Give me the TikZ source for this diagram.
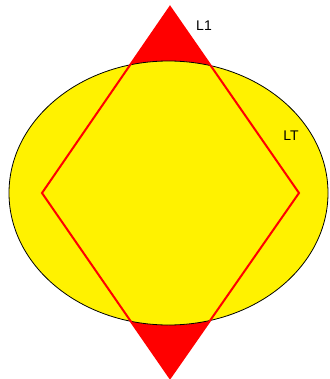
\documentclass[tikz,border=0pt]{standalone}
\usepackage{fontspec}
\setmainfont{Liberation Sans}
\usepackage{tikz}

\tikzset{
  lbl/.style={font=\fontsize{14}{16}\selectfont, inner sep=0pt},
  rim/.style={draw=red, line width=2pt, line join=miter},
}

\begin{document}
\begin{tikzpicture}[x=1pt,y=-1pt]
  \useasboundingbox (0,0) rectangle (329,379);
  \coordinate (top) at (170,7);
  \coordinate (lft) at (42,193);
  \coordinate (bot) at (170,378);
  \coordinate (rgt) at (299,193);
  \coordinate (ctr) at (168.5,193);
  \fill[red] (top) -- (lft) -- (bot) -- (rgt) -- cycle;
  \draw[fill=yellow,draw=black,line width=0.8pt] (ctr) ellipse [x radius=159.5, y radius=132];
  \draw[rim] (top) -- (lft) -- (bot) -- (rgt) -- cycle;
  \node[lbl] (l1) at (204,25.5) {L1};
  \node[lbl] (lt) at (291,135.5) {LT};
\end{tikzpicture}
\end{document}
